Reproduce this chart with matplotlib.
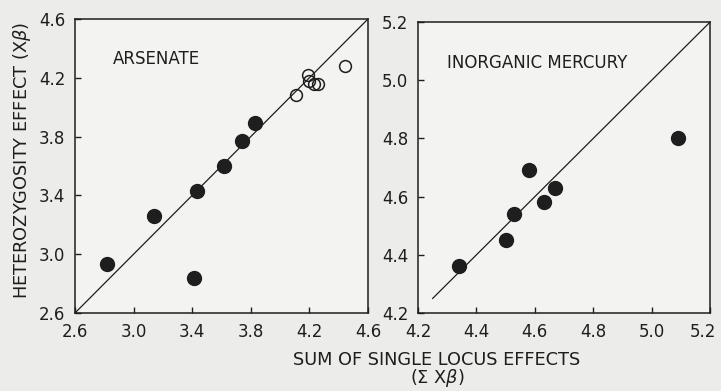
import numpy as np
import matplotlib
matplotlib.use("Agg")
import matplotlib.pyplot as plt
from matplotlib.transforms import ScaledTranslation

plt.rcParams['font.family'] = ['DejaVu Sans']
plt.rcParams['mathtext.fontset'] = 'dejavusans'

# arsenate: filled points and open points
ars_x_fill = [2.82, 3.14, 3.41, 3.43, 3.62, 3.74, 3.83]
ars_y_fill = [2.93, 3.26, 2.84, 3.43, 3.60, 3.77, 3.89]
ars_x_open = [4.11, 4.19, 4.20, 4.23, 4.26, 4.44]
ars_y_open = [4.08, 4.22, 4.18, 4.16, 4.16, 4.28]

# inorganic mercury
hg_x = [4.34, 4.50, 4.53, 4.58, 4.63, 4.67, 5.09]
hg_y = [4.36, 4.45, 4.54, 4.69, 4.58, 4.63, 4.80]

ars_ticks = [2.6, 3.0, 3.4, 3.8, 4.2, 4.6]
hg_ticks = [4.2, 4.4, 4.6, 4.8, 5.0, 5.2]

bg = '#ececea'
ink = '#1e1e1e'

fig = plt.figure(figsize=(7.21, 3.91), dpi=100, facecolor=bg)
ax1 = fig.add_axes([0.104, 0.1995, 0.4064, 0.752])
ax2 = fig.add_axes([0.5798, 0.1995, 0.405, 0.744])

for ax, ticks in ((ax1, ars_ticks), (ax2, hg_ticks)):
    ax.set_facecolor('#f3f3f1')
    ax.set_xlim(ticks[0], ticks[-1])
    ax.set_ylim(ticks[0], ticks[-1])
    ax.set_xticks(ticks)
    ax.set_yticks(ticks)
    ax.set_xticklabels(['%.1f' % t for t in ticks])
    ax.set_yticklabels(['%.1f' % t for t in ticks])
    ax.tick_params(direction='in', length=4, width=1, colors=ink,
                   labelsize=12, pad=7, top=False, right=False)
    for s in ax.spines.values():
        s.set_linewidth(1.1)
        s.set_color(ink)

# last label on the right panel sits a bit left so it stays on the page
lab = ax2.get_xticklabels()[-1]
lab.set_transform(lab.get_transform() + ScaledTranslation(-5/72, 0, fig.dpi_scale_trans))

# 1:1 lines
ax1.plot([2.6, 4.6], [2.6, 4.6], color=ink, lw=0.9)
ax2.plot([4.25, 5.2], [4.25, 5.2], color=ink, lw=0.9)

ax1.plot(ars_x_fill, ars_y_fill, 'o', ms=10, color=ink, mec=ink)
ax1.plot(ars_x_open, ars_y_open, 'o', ms=8.5, mfc='none', mec=ink, mew=1.1)
ax2.plot(hg_x, hg_y, 'o', ms=10, color=ink, mec=ink)

ax1.text(0.13, 0.864, 'ARSENATE', transform=ax1.transAxes,
         fontsize=12, color=ink, va='center')
ax2.text(0.098, 0.858, 'INORGANIC MERCURY', transform=ax2.transAxes,
         fontsize=12, color=ink, va='center')

fig.text(0.03, 0.59, r'HETEROZYGOSITY EFFECT (X$\beta$)', rotation=90,
         fontsize=12.8, color=ink, ha='center', va='center')
fig.text(0.606, 0.08, 'SUM OF SINGLE LOCUS EFFECTS', fontsize=12.8,
         color=ink, ha='center', va='center')
fig.text(0.606, 0.032, r'(Σ X$\beta$)', fontsize=12.8,
         color=ink, ha='center', va='center')

fig.savefig('out.png', dpi=100, facecolor=bg)
